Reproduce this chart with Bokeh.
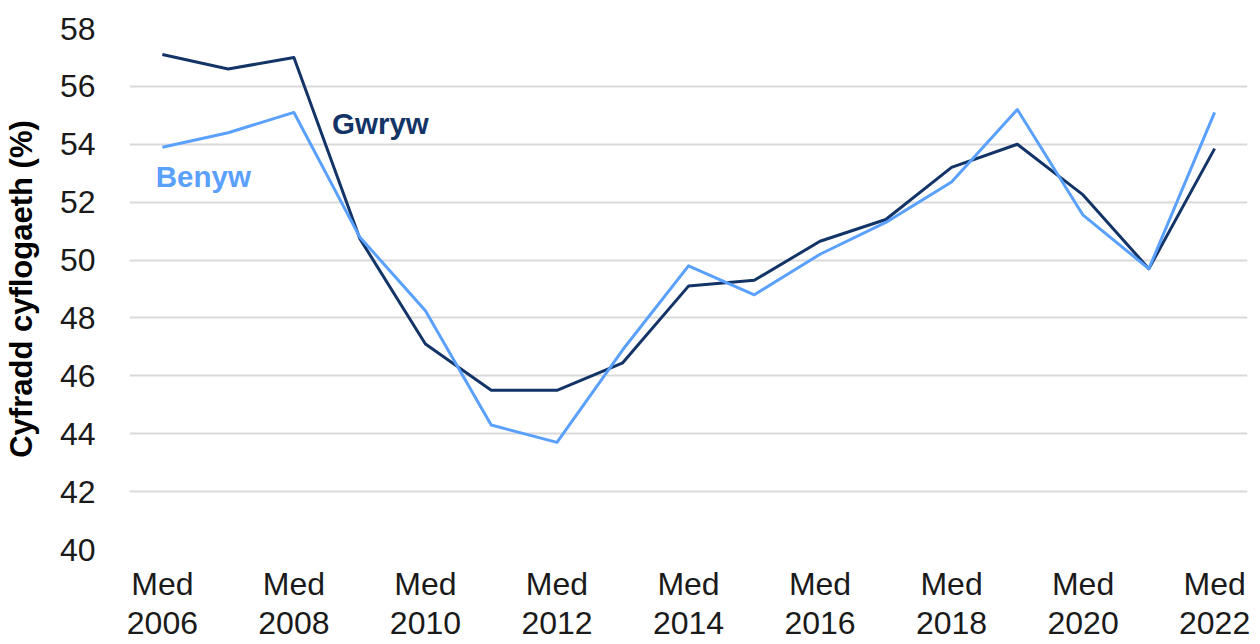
from bokeh.plotting import figure
from bokeh.models import Label, FixedTicker, Range1d
from bokeh.embed import file_html
from bokeh.resources import INLINE

years = ["2006", "2007", "2008", "2009", "2010", "2011", "2012", "2013", "2014",
         "2015", "2016", "2017", "2018", "2019", "2020", "2021", "2022"]
gwryw = [57.1, 56.6, 57.0, 50.75, 47.1, 45.5, 45.5, 46.45, 49.1, 49.3, 50.65,
         51.4, 53.2, 54.0, 52.25, 49.7, 53.85]
benyw = [53.9, 54.4, 55.1, 50.8, 48.25, 44.3, 43.7, 46.9, 49.8, 48.8, 50.2,
         51.3, 52.7, 55.2, 51.55, 49.7, 55.1]
y_ticks = [40, 42, 44, 46, 48, 50, 52, 54, 56, 58]
y_title = "Cyfradd cyflogaeth (%)"

GWRYW_C = "#133467"
BENYW_C = "#5aa0ff"
FONT = "Liberation Sans"

xs = list(range(len(years)))

p = figure(width=1252, height=644, output_backend="svg", toolbar_location=None,
           x_range=Range1d(-0.5, len(years) - 0.5), y_range=Range1d(40, 58),
           min_border_left=127, min_border_right=5, min_border_top=28,
           min_border_bottom=94)
p.outline_line_color = None
p.background_fill_color = "white"
p.border_fill_color = "white"

p.line(xs, gwryw, line_color=GWRYW_C, line_width=3, line_join="round")
p.line(xs, benyw, line_color=BENYW_C, line_width=3, line_join="round")

# x axis
p.xaxis.ticker = FixedTicker(ticks=xs[::2])
p.xaxis.major_label_overrides = {i: "Med\n" + years[i] for i in xs[::2]}
p.xaxis.axis_line_color = None
p.xaxis.major_tick_line_color = None
p.xaxis.minor_tick_line_color = None
p.xaxis.major_label_text_font = FONT
p.xaxis.major_label_text_font_size = "32px"
p.xaxis.major_label_text_line_height = 1.1
p.xaxis.major_label_text_color = "#1a1a1a"
p.xaxis.major_label_standoff = 10
p.xgrid.grid_line_color = None

# y axis
p.yaxis.ticker = FixedTicker(ticks=y_ticks)
p.yaxis.axis_line_color = None
p.yaxis.major_tick_line_color = None
p.yaxis.minor_tick_line_color = None
p.yaxis.major_label_text_font = FONT
p.yaxis.major_label_text_font_size = "32px"
p.yaxis.major_label_text_color = "#1a1a1a"
p.yaxis.major_label_standoff = 28
p.yaxis.axis_label = y_title
p.yaxis.axis_label_text_font = FONT
p.yaxis.axis_label_text_font_size = "31px"
p.yaxis.axis_label_text_font_style = "bold"
p.yaxis.axis_label_text_color = "#000000"
p.yaxis.axis_label_standoff = 18
p.ygrid.grid_line_color = "#d9d9d9"
p.ygrid.grid_line_width = 2

p.add_layout(Label(x=2.58, y=54.73, text="Gwryw", text_font=FONT,
                   text_font_size="29.5px", text_font_style="bold",
                   text_color=GWRYW_C, text_baseline="alphabetic"))
p.add_layout(Label(x=-0.1, y=52.9, text="Benyw", text_font=FONT,
                   text_font_size="29.5px", text_font_style="bold",
                   text_color=BENYW_C, text_baseline="alphabetic"))

open("out.html", "w").write(file_html(p, INLINE))
